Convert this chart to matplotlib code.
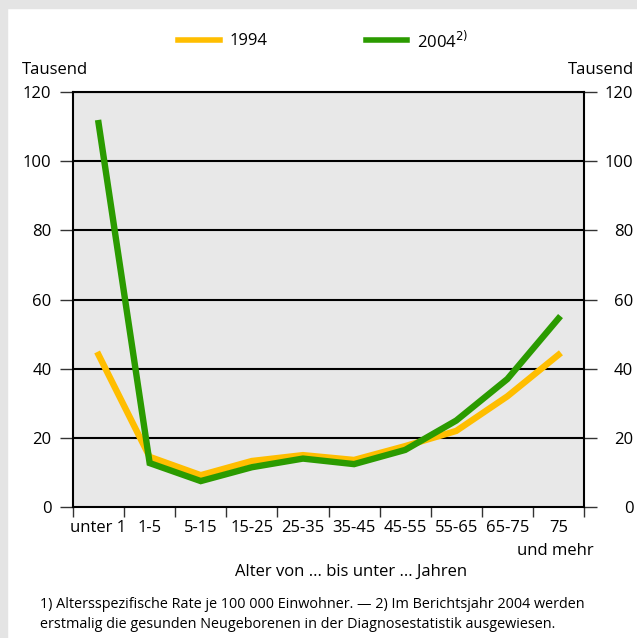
import numpy as np
import matplotlib
matplotlib.use("Agg")
import matplotlib.pyplot as plt

plt.rcParams['font.family'] = ['Open Sans', 'DejaVu Sans']

# age groups and values (Tausend)
ages = ["unter 1", "1-5", "5-15", "15-25", "25-35", "35-45",
        "45-55", "55-65", "65-75", "75\nund mehr"]
v1994 = [44, 14.5, 9.2, 13.3, 15, 13.6, 17.6, 22, 32, 44]
v2004 = [111, 12.7, 7.5, 11.5, 14, 12.4, 16.5, 25, 37, 54.5]
yticks = [0, 20, 40, 60, 80, 100, 120]

yellow = "#ffbe00"
green = "#2b9b00"

fig = plt.figure(figsize=(6.37, 6.38), dpi=100)
fig.patch.set_facecolor("white")
# gray frame strips at top and left
fig.patches.append(plt.Rectangle((0, 1 - 8 / 638), 1, 8 / 638, transform=fig.transFigure,
                                 color="#e4e4e4", zorder=0))
fig.patches.append(plt.Rectangle((0, 0), 7 / 637, 1, transform=fig.transFigure,
                                 color="#e4e4e4", zorder=0))

ax = fig.add_axes([73 / 637, 1 - 507 / 638, 511 / 637, 415 / 638])
ax.set_facecolor("#e8e8e8")

x = np.arange(len(ages))
ax.plot(x, v1994, color=yellow, lw=4.6, solid_joinstyle="miter", zorder=3)
ax.plot(x, v2004, color=green, lw=4.6, solid_joinstyle="miter", zorder=4)

ax.set_xlim(-0.5, len(ages) - 0.5)
ax.set_ylim(0, 120)

for s in ax.spines.values():
    s.set_color("black")
    s.set_linewidth(1.5)

for y in yticks[1:]:
    ax.axhline(y, color="black", lw=1.5, zorder=2)

ax.set_yticks(yticks)
ax.tick_params(axis="y", which="major", length=9.5, width=1.0, color="#333333",
               left=True, right=True, labelleft=True, labelright=False,
               labelsize=12, pad=6)
# right-hand labels, right aligned at the panel edge
for y in yticks:
    ax.annotate(str(y), xy=(1, y), xycoords=("axes fraction", "data"),
                xytext=(35.5, 0), textcoords="offset points",
                ha="right", va="center_baseline", fontsize=12)

ax.set_xticks(np.arange(-0.5, len(ages), 1.0))
ax.set_xticklabels([])
ax.tick_params(axis="x", which="major", length=7.5, width=1.0, color="#333333")
ax.set_xticks(x, minor=True)
ax.set_xticklabels([a.split("\n")[0] for a in ages], minor=True, fontsize=12)
ax.tick_params(axis="x", which="minor", length=0, pad=9)
# second line of the last label
ax.annotate(ages[-1].split("\n")[1], xy=(x[-1], 0), xycoords="data",
            xytext=(-2, -32), textcoords="offset points",
            ha="center", va="center", fontsize=12)

fig.text(22 / 637, 1 - 70 / 638, "Tausend", fontsize=12, ha="left", va="center")
fig.text(634 / 637, 1 - 70 / 638, "Tausend", fontsize=12, ha="right", va="center")
fig.text(351 / 637, 1 - 572 / 638, "Alter von ... bis unter ... Jahren",
         fontsize=12, ha="center", va="center")

# legend
fig.lines.append(plt.Line2D([178 / 637, 220 / 637], [1 - 40 / 638] * 2,
                            transform=fig.transFigure, color=yellow, lw=4))
fig.text(230 / 637, 1 - 41 / 638, "1994", fontsize=12, ha="left", va="center")
fig.lines.append(plt.Line2D([366 / 637, 407 / 637], [1 - 40 / 638] * 2,
                            transform=fig.transFigure, color=green, lw=4))
fig.text(417 / 637, 1 - 41 / 638, "2004$^{2)}$", fontsize=12, ha="left", va="center")

fig.text(40 / 637, 1 - 605 / 638,
         "1) Altersspezifische Rate je 100 000 Einwohner. \u2014 2) Im Berichtsjahr 2004 werden",
         fontsize=10.4, ha="left", va="center")
fig.text(40 / 637, 1 - 624 / 638,
         "erstmalig die gesunden Neugeborenen in der Diagnosestatistik ausgewiesen.",
         fontsize=10.4, ha="left", va="center")

fig.savefig("out.png", dpi=100)
